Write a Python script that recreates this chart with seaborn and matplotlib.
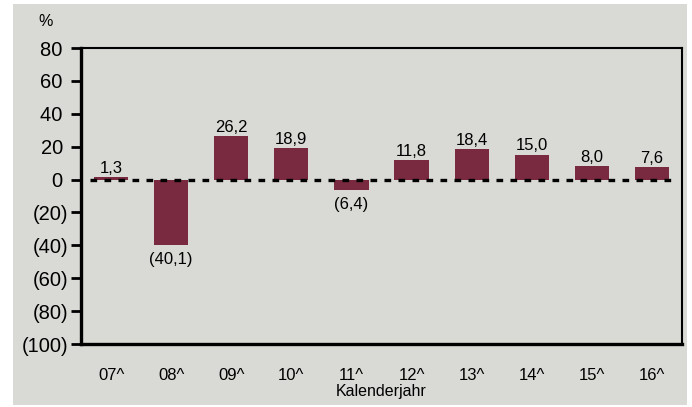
import matplotlib
matplotlib.use("Agg")
import matplotlib.pyplot as plt
from matplotlib.patches import Rectangle
import pandas as pd
import seaborn as sns

# values
years = ["07^", "08^", "09^", "10^", "11^", "12^", "13^", "14^", "15^", "16^"]
change = [1.3, -40.1, 26.2, 18.9, -6.4, 11.8, 18.4, 15.0, 8.0, 7.6]
yticks = [80, 60, 40, 20, 0, -20, -40, -60, -80, -100]

bar_color = "#7a2a40"
panel = "#d9d9d5"


def fmt(v, decimals=1):
    s = f"{abs(v):.{decimals}f}".replace(".", ",")
    return f"({s})" if v < 0 else s


sns.set_theme(style="white")
plt.rcParams["font.family"] = ["Liberation Sans", "DejaVu Sans"]
plt.rcParams["text.color"] = "black"
plt.rcParams["xtick.color"] = "black"
plt.rcParams["ytick.color"] = "black"
plt.rcParams["axes.labelcolor"] = "black"

df = pd.DataFrame({"year": years, "change": change})

fig = plt.figure(figsize=(6.92, 4.07), dpi=100)
fig.patch.set_facecolor("white")
fig.patches.append(Rectangle((13 / 692, 2 / 407), 674 / 692, 401 / 407,
                             transform=fig.transFigure, facecolor=panel,
                             edgecolor="none", zorder=-10))
ax = fig.add_axes([81 / 692, 63 / 407, 601 / 692, 296 / 407])
ax.set_facecolor(panel)

sns.barplot(data=df, x="year", y="change", color=bar_color, saturation=1,
            width=0.57, linewidth=0, ax=ax, zorder=2)

ax.set_xlim(-0.5, len(years) - 0.5)
ax.set_ylim(-100, 80)
ax.set_yticks(yticks)
ax.set_yticklabels([fmt(t, 0) if t < 0 else f"{t} " for t in yticks], fontsize=14.5)
ax.tick_params(axis="y", direction="out", length=7, width=2, color="black", pad=2,
               left=True)
ax.tick_params(axis="x", length=0, pad=17, labelsize=12)

ax.set_xlabel("Kalenderjahr", fontsize=11.5, labelpad=1)
ax.set_ylabel("")

# dotted zero line
ax.axhline(0, xmin=0.015, xmax=0.985, color="black", lw=2.4,
           linestyle=(0, (2.0, 2.2)), zorder=3)

for i, v in enumerate(change):
    if v >= 0:
        ax.annotate(fmt(v), (i, v), xytext=(0, 1), textcoords="offset points",
                    ha="center", va="bottom", fontsize=12)
    else:
        ax.annotate(fmt(v), (i, v), xytext=(0, -5), textcoords="offset points",
                    ha="center", va="top", fontsize=12)

for side in ["left", "bottom"]:
    ax.spines[side].set_linewidth(2.4)
    ax.spines[side].set_color("black")
for side in ["top", "right"]:
    ax.spines[side].set_linewidth(1.5)
    ax.spines[side].set_color("black")
    ax.spines[side].set_visible(True)

fig.text(46 / 692, 1 - 22 / 407, "%", fontsize=11.5, ha="center", va="center")

fig.savefig("out.png", dpi=100, facecolor=fig.get_facecolor())
